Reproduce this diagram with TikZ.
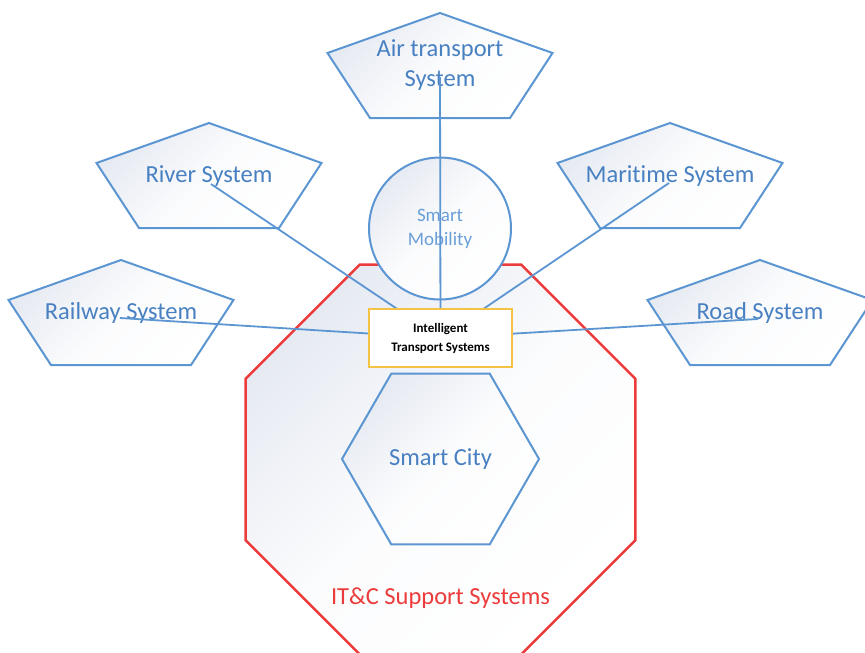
\documentclass[tikz,border=0pt]{standalone}
\usepackage{fontspec}
\setmainfont{Carlito}[Ligatures=NoCommon]
\usetikzlibrary{shapes.geometric}

\definecolor{linkblue}{HTML}{5B95D2}
\definecolor{labelblue}{HTML}{4880C2}
\definecolor{softblue}{HTML}{6A9ED6}
\definecolor{octred}{HTML}{EC3B3B}
\definecolor{boxgold}{HTML}{F4C244}
\definecolor{haze}{HTML}{E6EAF2}

\begin{document}
\begin{tikzpicture}[x=1pt,y=-1pt,
  shapefill/.style={top color=haze, bottom color=white,
      middle color=white!85!haze, shading angle=45},
  blueedge/.style={draw=linkblue, line width=2pt, line join=miter},
  pentabox/.pic={\path[blueedge, shapefill] (0,0) -- (112.5,40) -- (70,105)
      -- (-70,105) -- (-112.5,40) -- cycle;},
  syslabel/.style={text=labelblue, font=\fontsize{24.5}{30}\selectfont,
      align=center, inner sep=0pt},
  link/.style={draw=linkblue, line width=1.8pt},
]
\path[use as bounding box, clip] (0,0) rectangle (865,653);

% IT&C support layer
\node[regular polygon, regular polygon sides=8, minimum size=422pt,
      inner sep=0pt, draw=octred, line width=2.4pt, shapefill]
      (itc) at (440.5,459.5) {};
\node[text=octred, font=\fontsize{24.5}{30}\selectfont, inner sep=0pt]
      (itclabel) at (440.5,598) {IT\&C Support Systems};

% Smart City
\node[regular polygon, regular polygon sides=6, minimum size=197pt,
      inner sep=0pt, blueedge, shapefill, syslabel]
      (city) at (440.5,459) {Smart City};

% Smart Mobility
\node[circle, minimum size=142pt, inner sep=0pt, blueedge, shapefill,
      text=softblue, font=\fontsize{19}{24}\selectfont, align=center]
      (mob) at (440,228.5) {Smart\\Mobility};

% Transport systems
\pic at (440,13)  {pentabox};
\pic at (209,123) {pentabox};
\pic at (670,123) {pentabox};
\pic at (121,260) {pentabox};
\pic at (760,260) {pentabox};

\node[syslabel] (air)   at (440,65)  {Air transport\\System};
\node[syslabel] (river) at (209,176) {River System};
\node[syslabel] (sea)   at (670,176) {Maritime System};
\node[syslabel] (rail)  at (121,313) {Railway System};
\node[syslabel] (road)  at (760,313) {Road System};

\coordinate (airc)   at (440,77);
\coordinate (riverc) at (211,184);
\coordinate (seac)   at (669,183);
\coordinate (railc)  at (120,318);
\coordinate (roadc)  at (758,319);

% Hub
\coordinate (hub) at (440.5,338);
\draw[link] (hub) -- (airc);
\draw[link] (hub) -- (riverc);
\draw[link] (hub) -- (seac);
\draw[link] (hub) -- (railc);
\draw[link] (hub) -- (roadc);

\node[draw=boxgold, line width=2pt, fill=white, minimum width=143pt,
      minimum height=58pt, inner sep=0pt, align=center,
      font=\fontsize{13}{19}\selectfont\bfseries]
      (its) at (hub) {Intelligent\\Transport Systems};
\end{tikzpicture}
\end{document}
